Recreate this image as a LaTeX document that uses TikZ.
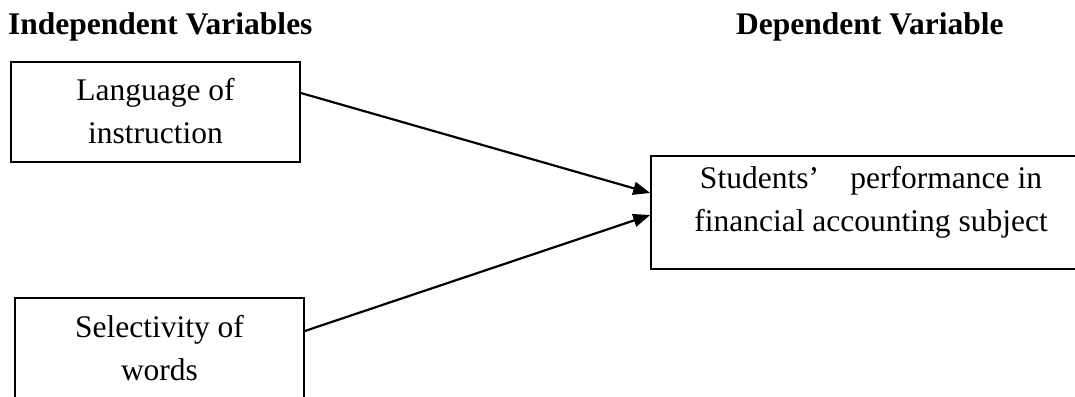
\documentclass[tikz,border=0pt]{standalone}
\usepackage{fontspec}
\setmainfont{Liberation Serif}
\usetikzlibrary{arrows.meta}
\begin{document}
\begin{tikzpicture}[x=1pt,y=-1pt,
  box/.style={draw,line width=1.6pt,rectangle,inner sep=0pt},
  lbl/.style={align=center,font=\fontsize{31.5}{43}\selectfont,inner sep=0pt},
  head/.style={anchor=base west,inner sep=0pt,font=\fontsize{31.5}{38}\selectfont\bfseries},
  arr/.style={line width=2.2pt,-{Triangle[length=17pt,width=13pt]}}]
\useasboundingbox (0,0) rectangle (1075,396);
\clip (0,0) rectangle (1075,396);
\node[head] (h1) at (8,35) {Independent Variables};
\node[head] (h2) at (736,35) {Dependent Variable};
\node[box,minimum width=289pt,minimum height=100pt] (b1) at (155.5,112) {};
\node[box,minimum width=289pt,minimum height=122pt] (b2) at (159.5,359) {};
\node[box,minimum width=440pt,minimum height=113pt] (b3) at (871,212.5) {};
\node[lbl] (t1) at (155.5,111) {Language of\\instruction};
\node[lbl] (t2) at (159.5,348) {Selectivity of\\words};
\node[lbl] (t3) at (871,202) {Students’\hspace{1em}performance in\\financial accounting subject};
\draw[arr] ([yshift=19pt]b1.east) -- ([yshift=19.5pt]b3.west);
\draw[arr] ([yshift=28pt]b2.east) -- ([yshift=-2.5pt]b3.west);
\end{tikzpicture}
\end{document}
